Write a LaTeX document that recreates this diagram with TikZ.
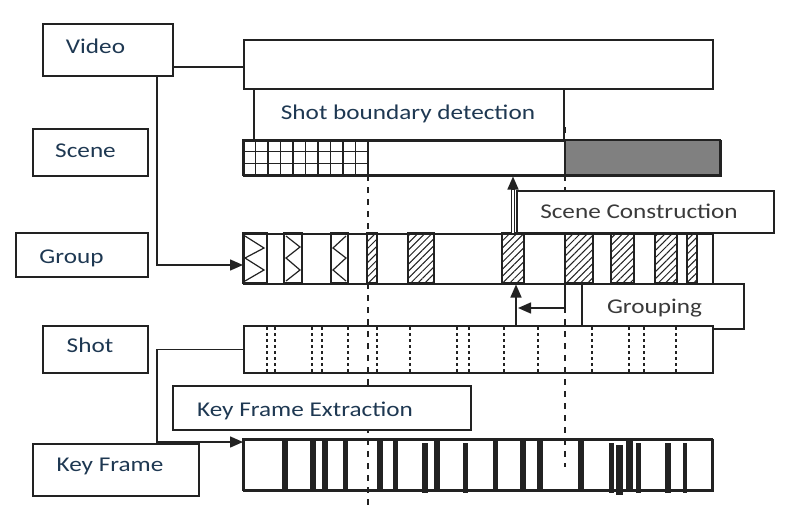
\documentclass[tikz,border=0pt]{standalone}
\usepackage{fontspec}
\setmainfont{Carlito}[FakeStretch=1.2]
\usetikzlibrary{arrows.meta,patterns.meta}
\definecolor{ink}{RGB}{34,34,34}
\definecolor{bluetext}{RGB}{30,56,82}
\definecolor{graytext}{RGB}{58,58,58}
\definecolor{scenegray}{RGB}{128,128,128}
\tikzset{
  box/.style={draw=ink, line width=1.5pt, fill=white, rectangle, inner sep=0pt, anchor=north west},
  lbl/.style={font=\fontsize{21}{24}\selectfont, text=bluetext, anchor=base, inner sep=0pt},
  glbl/.style={lbl, text=graytext},
  conn/.style={draw=ink, line width=1.5pt},
  arr/.style={conn, -{Triangle[length=13pt,width=11pt]}},
  longdash/.style={draw=ink, line width=1.8pt, dash pattern=on 6pt off 6pt},
  shortdash/.style={draw=ink, line width=1.5pt, dash pattern=on 3pt off 3pt},
  hatch/.style={draw=ink, line width=1.2pt, pattern={Lines[angle=45,distance=5pt,line width=1pt]}, pattern color=ink},
  zig/.style={draw=ink, line width=1.2pt},
}
\begin{document}
\begin{tikzpicture}[x=1pt,y=-1pt]
\useasboundingbox[fill=white] (0,0) rectangle (790,517);

% ---------- long dashed guide lines (behind boxes) ----------
\coordinate (d1t) at (368,175);
\coordinate (d1b) at (368,510);
\coordinate (d2t) at (565,127);
\coordinate (d2b) at (565,467);
\draw[longdash] (d1t) -- (d1b);
\draw[longdash] (d2t) -- (d2b);

% ---------- Video ----------
\node[box, minimum width=130pt, minimum height=52pt] (video) at (42,23) {};
\node[lbl] (videot) at (95.5,53) {Video};
\node[box, minimum width=469pt, minimum height=49pt] (top) at (243,39) {};
\coordinate (vy) at (0,67);
\coordinate (vx) at (157,0);
\draw[conn] (video.east |- vy) -- (top.west |- vy);

% ---------- Shot boundary detection ----------
\node[box, minimum width=310pt, minimum height=52pt] (sbd) at (253,88) {};
\node[lbl] (sbdt) at (408,119) {Shot boundary detection};

% ---------- Scene ----------
\node[box, minimum width=115pt, minimum height=47pt] (scene) at (32,128) {};
\node[lbl] (scenet) at (85.5,157) {Scene};
\node[box, minimum width=477pt, minimum height=35pt] (scenebar) at (243,140) {};
\fill[scenegray] (565,140) rectangle (720,175);
\draw[ink, line width=1.5pt] (565,140) rectangle (720,175);
\foreach \i in {0,...,10} {\draw[ink, line width=1.5pt] ({243+12.5*\i},140) -- ({243+12.5*\i},175);}
\foreach \yy in {140,151.7,163.3,175} {\draw[ink, line width=1.5pt] (243,\yy) -- (368,\yy);}
\draw[ink, line width=1.5pt] (243,140) rectangle (720,175);
\draw[longdash] (d2t) -- (565,140);

% ---------- Group ----------
\node[box, minimum width=132pt, minimum height=44pt] (group) at (15,232) {};
\node[lbl] (groupt) at (71.5,263) {Group};
\node[box, minimum width=469pt, minimum height=50pt] (groupbar) at (243,233) {};
% zigzag stripes
\draw[zig] (243,233) rectangle (267,283);
\draw[zig] (245,236) -- (264,248) -- (245,258) -- (264,270) -- (245,281);
\draw[zig] (284,233) rectangle (302,283);
\draw[zig] (286,236) -- (300,247) -- (286,258) -- (300,270) -- (286,281);
\draw[zig] (331,233) rectangle (348,283);
\draw[zig] (346,236) -- (333,248) -- (346,258) -- (333,270) -- (346,281);
% hatched stripes
\foreach \a/\b in {367/377,408/434,502/524,565/593,611/634,655/677,687/697}
  {\draw[hatch] (\a,233) rectangle (\b,283);}
\draw[longdash] (368,175) -- (368,233);

% ---------- Scene Construction ----------
\node[box, minimum width=257pt, minimum height=42pt] (scon) at (516,190) {};
\node[glbl] (scont) at (639,218) {Scene Construction};
\coordinate (scx) at (513,0);
\draw[draw=ink, line width=1pt, double=white, double distance=2.2pt] (groupbar.north -| scx) -- (513,188);
\draw[arr] (513,190) -- (scenebar.south -| scx);

% ---------- Grouping ----------
\node[box, minimum width=162pt, minimum height=45pt] (grouping) at (581,283) {};
\node[glbl] (groupingt) at (654.5,313) {Grouping};

% ---------- Shot ----------
\node[box, minimum width=105pt, minimum height=47pt] (shot) at (42,325) {};
\node[lbl] (shott) at (90,352) {Shot};
\node[box, minimum width=469pt, minimum height=47pt] (shotbar) at (243,325) {};
\foreach \x in {267,275,312,322,348,377,410,457,469,504,538,592,629,644,676}
  {\draw[shortdash] (\x,327) -- (\x,372);}
\draw[longdash] (368,283) -- (368,372);
\draw[longdash] (565,283) -- (565,372);

% grouping arrows
\coordinate (gx) at (516,0);
\coordinate (gy) at (0,308);
\draw[arr] (shotbar.north -| gx) -- (groupbar.south -| gx);
\draw[conn] (565,283) -- (565,308);
\draw[arr] (565,308) -- (518,308);

% ---------- Key Frame Extraction ----------
\node[box, minimum width=298pt, minimum height=44pt] (kfe) at (172,385) {};
\node[lbl] (kfet) at (305,416) {Key Frame Extraction};

% ---------- Key Frame ----------
\node[box, minimum width=166pt, minimum height=52pt] (kf) at (32,443) {};
\node[lbl] (kft) at (110,471) {Key Frame};
\node[box, minimum width=469pt, minimum height=51pt] (kfbar) at (243,439) {};
\draw[longdash] (368,439) -- (d1b);
\draw[longdash] (565,439) -- (d2b);
\foreach \a/\b/\t/\u in {282/288/439/490,310/316/439/490,322/328/439/490,343/348/439/490,377/383/439/490,393/398/439/490,422/428/443/493,434/440/439/490,463/468/443/493,493/498/439/490,520/526/439/490,537/543/439/490,578/584/439/490,609/614/443/493,616/623/445/495,626/633/439/491,636/641/443/493,665/671/443/493,683/687/443/493}
  {\fill[ink] (\a,\t) rectangle (\b,\u);}
\draw[ink, line width=1.5pt] (243,439) rectangle (712,490);

% shot -> key frame connector
\coordinate (ky) at (0,442);
\draw[arr] (shotbar.west) -- (shotbar.west -| vx) -- (vx |- ky) -- (kfbar.west |- ky);
% video -> group connector
\coordinate (gry) at (0,265);
\draw[arr] (video.south -| vx) -- (vx |- gry) -- (groupbar.west |- gry);
\end{tikzpicture}
\end{document}
